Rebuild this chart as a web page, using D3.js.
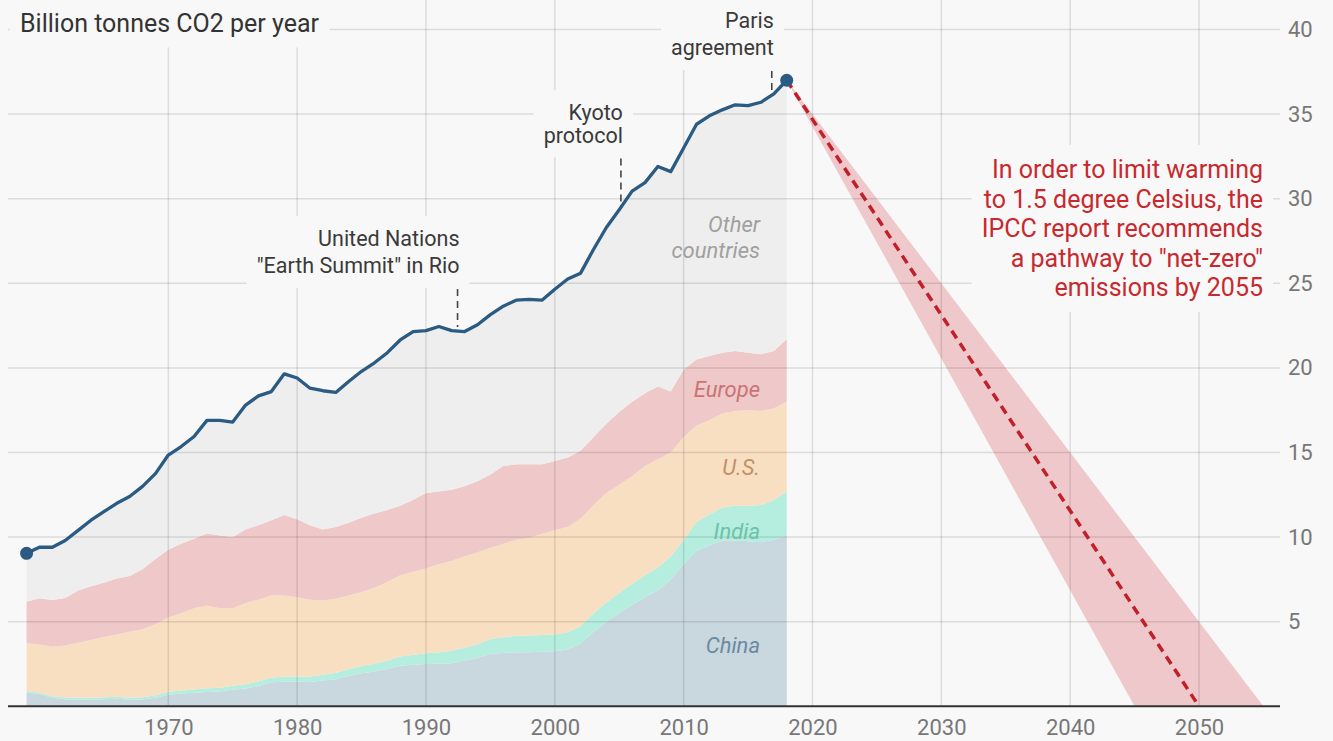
<!DOCTYPE html>
<html><head><meta charset="utf-8">
<script src="https://cdn.jsdelivr.net/npm/d3@7"></script>
<style>
html,body{margin:0;padding:0;background:#f8f8f8;}
svg{display:block;font-family:Roboto,"Noto Sans",sans-serif;}
</style></head><body>
<svg id="chart" width="1333" height="741"></svg>
<script>
// ---------- DATA ----------
const years = d3.range(1959, 2019);
const china = [0.8,0.72,0.5,0.42,0.4,0.4,0.42,0.45,0.38,0.4,0.5,0.68,0.75,0.8,0.85,0.88,0.98,1.05,1.2,1.42,1.45,1.45,1.43,1.52,1.6,1.8,1.95,2.05,2.2,2.4,2.45,2.5,2.52,2.55,2.7,2.85,3.1,3.15,3.2,3.2,3.22,3.25,3.35,3.7,4.4,5.0,5.5,6.0,6.45,6.85,7.5,8.4,9.2,9.5,9.8,9.8,9.75,9.7,9.85,10.1];
const india = [0.1,0.1,0.1,0.1,0.1,0.1,0.12,0.12,0.13,0.14,0.16,0.18,0.19,0.2,0.21,0.22,0.24,0.26,0.27,0.28,0.3,0.31,0.33,0.35,0.38,0.4,0.43,0.46,0.5,0.55,0.6,0.63,0.68,0.73,0.76,0.82,0.88,0.93,0.97,0.98,1.0,1.0,1.02,1.05,1.1,1.15,1.2,1.25,1.3,1.35,1.35,1.45,1.7,1.85,1.95,2.05,2.1,2.2,2.35,2.6];
const us = [2.82,2.83,2.92,3.08,3.25,3.42,3.56,3.68,3.89,4.01,4.19,4.39,4.56,4.8,4.89,4.7,4.58,4.79,4.83,4.85,4.8,4.69,4.54,4.38,4.37,4.35,4.37,4.49,4.65,4.8,4.9,5.02,5.2,5.32,5.39,5.43,5.37,5.52,5.68,5.77,5.98,6.15,6.23,6.35,6.4,6.45,6.4,6.35,6.45,6.4,6.15,6.05,5.7,5.55,5.55,5.6,5.65,5.55,5.4,5.3];
const europe = [2.46,2.73,2.76,2.8,3.1,3.18,3.2,3.3,3.3,3.55,3.85,4.0,4.1,4.1,4.27,4.3,4.2,4.35,4.4,4.45,4.75,4.6,4.4,4.2,4.25,4.3,4.4,4.4,4.25,4.1,4.25,4.45,4.3,4.2,4.15,4.2,4.35,4.6,4.45,4.35,4.1,4.1,4.1,4.0,4.0,4.1,4.3,4.4,4.3,4.3,3.6,4.0,3.9,3.8,3.6,3.55,3.4,3.35,3.4,3.7];
const other = [2.86,3.02,3.12,3.4,3.55,3.9,4.2,4.45,4.7,4.9,5.05,5.6,5.75,6.05,6.68,6.8,6.8,7.35,7.65,7.6,8.35,8.35,8.1,8.2,7.95,8.35,8.65,8.9,9.3,9.8,9.95,9.6,9.75,9.4,9.15,9.25,9.45,9.45,9.7,9.75,9.7,10.15,10.55,10.5,11.1,11.6,11.95,12.45,12.45,13.0,13.0,13.1,13.9,14.2,14.35,14.55,14.6,14.9,15.2,15.3];

const seriesKeys = ["china","india","us","europe","other"];
const seriesLabels = ["China","India","U.S.","Europe","Other countries"];

const xTicks = [1970,1980,1990,2000,2010,2020,2030,2040,2050];
const yTicks = [5,10,15,20,25,30,35,40];

const projYears = [2018, 2050];
const projValues = [37.0, 0];
const bandValues = [37.0, 0];
const bandLowYears = [2018, 2045];
const bandHighYears = [2018, 2055];

const annoDates = [1992.45, 2005.13, 2016.84];
const annoLabels = [["United Nations", "\"Earth Summit\" in Rio"], ["Kyoto", "protocol"], ["Paris", "agreement"]];

const title = "Billion tonnes CO2 per year";
const noteLines = ["In order to limit warming", "to 1.5 degree Celsius, the", "IPCC report recommends", "a pathway to \"net-zero\"", "emissions by 2055"];

// ---------- LAYOUT ----------
const W = 1333, H = 741;
const BG = "#f8f8f8";
const x = d3.scaleLinear().domain([1970, 2050]).range([168.3, 1199.0]);
const y = d3.scaleLinear().domain([0, 40]).range([706.3, 29.5]);
const gridLeft = 8, gridRight = 1280;

const colors = {china:"#c9d7de", india:"#b5eedf", us:"#f9dfc2", europe:"#efc8c9", other:"#eeeeee"};
const labelColors = {china:"#6b8aa2", india:"#6cc2a8", us:"#c29068", europe:"#c97474", other:"#a0a0a0"};

const svg = d3.select("#chart");
svg.append("rect").attr("width", W).attr("height", H).attr("fill", BG);

const rows = years.map((yr, i) => ({year: yr, china: china[i], india: india[i], us: us[i], europe: europe[i], other: other[i]}));
const stack = d3.stack().keys(seriesKeys)(rows);

// areas
const area = d3.area().x(d => x(d.data.year)).y0(d => y(d[0])).y1(d => y(d[1]));
svg.append("g").selectAll("path").data(stack).join("path")
  .attr("d", area).attr("fill", d => colors[d.key]);

// projection band
const bandRows = bandValues.map((v, i) => ({v, lo: bandLowYears[i], hi: bandHighYears[i]}));
svg.append("path").datum(bandRows)
  .attr("d", d3.area().y(d => y(d.v)).x0(d => x(d.lo)).x1(d => x(d.hi)))
  .attr("fill", "rgba(214,62,72,0.26)");

// gridlines
const grid = svg.append("g").attr("stroke", "rgba(0,0,0,0.11)").attr("stroke-width", 1.5);
grid.selectAll("line.h").data(yTicks).join("line").attr("class", "h")
  .attr("x1", gridLeft).attr("x2", gridRight).attr("y1", d => y(d)).attr("y2", d => y(d));
grid.selectAll("line.v").data(xTicks).join("line").attr("class", "v")
  .attr("x1", d => x(d)).attr("x2", d => x(d)).attr("y1", 0).attr("y2", y(0));

// axes (tick labels via d3 axes)
const xAxis = svg.append("g").attr("transform", `translate(0,${y(0)})`)
  .call(d3.axisBottom(x).tickValues(xTicks).tickFormat(d3.format("d")).tickSize(0).tickPadding(13));
xAxis.select(".domain").remove();
xAxis.selectAll("text").attr("font-size", 22).attr("fill", "#777").attr("font-family", "Roboto");

const yAxis = svg.append("g").attr("transform", `translate(${gridRight},0)`)
  .call(d3.axisRight(y).tickValues(yTicks).tickSize(0).tickPadding(8));
yAxis.select(".domain").remove();
yAxis.selectAll("text").attr("font-size", 22).attr("fill", "#777").attr("font-family", "Roboto");

svg.append("line").attr("x1", gridLeft).attr("x2", gridRight).attr("y1", y(0)).attr("y2", y(0))
  .attr("stroke", "#333").attr("stroke-width", 2);

// halo helper
function halo(g, pad) {
  const b = g.node().getBBox();
  g.insert("rect", ":first-child").attr("x", b.x - pad).attr("y", b.y - pad)
    .attr("width", b.width + 2 * pad).attr("height", b.height + 2 * pad).attr("fill", BG);
}

// title
const tg = svg.append("g");
tg.append("text").attr("x", 20).attr("y", 31.5).attr("font-size", 25).attr("fill", "#333").text(title);
halo(tg, 10);

// total line
const totals = rows.map(r => ({year: r.year, v: r.china + r.india + r.us + r.europe + r.other}));
const interpTotal = yr => {
  const i = Math.floor(yr - years[0]);
  const t = yr - years[0] - i;
  return totals[i].v * (1 - t) + totals[Math.min(i + 1, totals.length - 1)].v * t;
};

// annotations
const annoLayout = [{base: 246, lh: 27}, {base: 120, lh: 22.5}, {base: 28, lh: 27}];
annoDates.forEach((dt, k) => {
  const g = svg.append("g");
  const L = annoLayout[k];
  annoLabels[k].forEach((s, j) => {
    g.append("text").attr("x", x(dt) + 2).attr("y", L.base + j * L.lh)
      .attr("text-anchor", "end").attr("font-size", 21.5).attr("fill", "#3a3a3a").text(s);
  });
  halo(g, 10);
  const lastBase = L.base + (annoLabels[k].length - 1) * L.lh;
  svg.append("line").attr("x1", x(dt)).attr("x2", x(dt))
    .attr("y1", lastBase + 16).attr("y2", y(interpTotal(dt)) - 4)
    .attr("stroke", "#444").attr("stroke-width", 1.6).attr("stroke-dasharray", "7,5");
});

// red note
const ng = svg.append("g");
noteLines.forEach((s, j) => {
  ng.append("text").attr("x", 1263).attr("y", 178 + j * 29.5).attr("text-anchor", "end")
    .attr("font-size", 25).attr("fill", "#c8292e").text(s);
});
halo(ng, 10);

// projection dashed line
const projRows = projYears.map((yr, i) => ({year: yr, v: projValues[i]}));
svg.append("path").datum(projRows)
  .attr("d", d3.line().x(d => x(d.year)).y(d => y(d.v)))
  .attr("fill", "none").attr("stroke", "#c0202a").attr("stroke-width", 3.5).attr("stroke-dasharray", "9,6");

svg.append("path").datum(totals)
  .attr("d", d3.line().x(d => x(d.year)).y(d => y(d.v)))
  .attr("fill", "none").attr("stroke", "#2b5a82").attr("stroke-width", 3.3).attr("stroke-linejoin", "round");

svg.selectAll("circle.end").data([totals[0], totals[totals.length - 1]]).join("circle")
  .attr("class", "end").attr("cx", d => x(d.year)).attr("cy", d => y(d.v)).attr("r", 6.5).attr("fill", "#2b5a82");

// area labels
const labelLayout = {other: [231.7, 258.3], europe: [396.7], us: [475], india: [539.3], china: [652.7]};
seriesKeys.forEach((k, i) => {
  const words = k === "other" ? ["Other", "countries"] : [seriesLabels[i]];
  words.forEach((w, j) => {
    svg.append("text").attr("x", 760).attr("y", labelLayout[k][j]).attr("text-anchor", "end")
      .attr("font-size", 22).attr("font-style", "italic").attr("fill", labelColors[k]).text(w);
  });
});
</script>
</body></html>
